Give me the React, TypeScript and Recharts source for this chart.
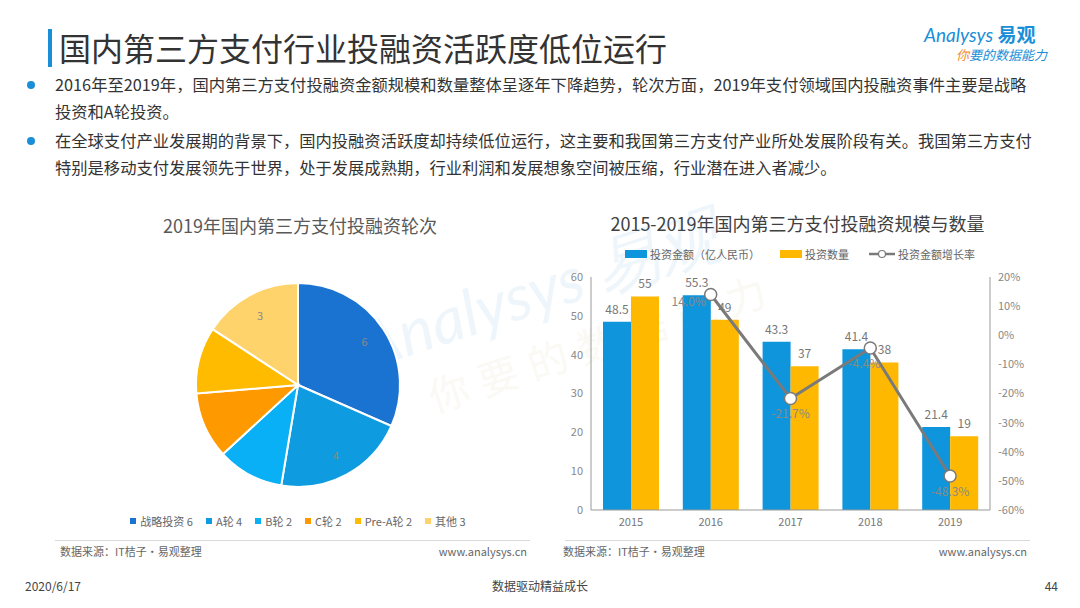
import React from "react";
import {
  Bar,
  Cell,
  ComposedChart,
  LabelList,
  Line,
  Pie,
  PieChart,
  XAxis,
  YAxis,
} from "recharts";

// pie: 2019 rounds
const roundNames = ["战略投资", "A轮", "B轮", "C轮", "Pre-A轮", "其他"];
const roundCounts = [6, 4, 2, 2, 2, 3];
const ROUND_COLORS = ["#1a73d0", "#0e9be0", "#0ab0f5", "#ff9900", "#ffbb00", "#ffd36b"];

// bars + line: 2015-2019
const years = ["2015", "2016", "2017", "2018", "2019"];
const amounts = [48.5, 55.3, 43.3, 41.4, 21.4];
const counts = [55, 49, 37, 38, 19];
const growth = [null, 14.0, -21.7, -4.4, -48.3];

const leftTicks = [0, 10, 20, 30, 40, 50, 60];
const rightTicks = [-60, -50, -40, -30, -20, -10, 0, 10, 20];

const pieData = roundNames.map((name, i) => ({ name, value: roundCounts[i] }));
const barData = years.map((year, i) => ({
  year,
  amount: amounts[i],
  count: counts[i],
  growth: growth[i],
}));

const FONT = '"Noto Sans CJK SC", "Noto Sans", sans-serif';
const BLUE = "#0e95dc";
const YELLOW = "#ffb800";
const LINE = "#7a7a7a";

const PieLabel = (props: any) => {
  const { cx, cy, midAngle, outerRadius, value } = props;
  if (value <= 2) return null;
  const r = outerRadius * 0.78;
  const rad = (Math.PI / 180) * midAngle;
  return (
    <text
      x={cx + r * Math.cos(rad)}
      y={cy - r * Math.sin(rad)}
      fill="#8a8a8a"
      fontSize={11}
      textAnchor="middle"
      dominantBaseline="central"
    >
      {value}
    </text>
  );
};

const GrowthLabel = (props: any) => {
  const { x, y, value, index } = props;
  if (value === null || value === undefined) return null;
  const left = index === 1;
  return (
    <text
      x={left ? x - 22 : index === 3 ? x - 6 : x}
      y={left ? y + 12 : y + 20}
      fill="#8a8a8a"
      fontSize={12}
      textAnchor="middle"
    >
      {value.toFixed(1)}%
    </text>
  );
};

const abs = (left: number, top: number, extra: React.CSSProperties = {}): React.CSSProperties => ({
  position: "absolute",
  left,
  top,
  ...extra,
});

export default function App() {
  return (
    <div
      style={{
        position: "absolute",
        left: 0,
        top: 0,
        width: 1080,
        height: 608,
        background: "#fff",
        fontFamily: FONT,
        overflow: "hidden",
      }}
    >
      {/* header */}
      <div style={abs(48, 29, { width: 4, height: 38, background: "#1a8fd8" })} />
      <div style={abs(59, 22, { fontSize: 32, color: "#333", lineHeight: "50px", whiteSpace: "nowrap" })}>
        国内第三方支付行业投融资活跃度低位运行
      </div>
      <div style={abs(924, 24, { whiteSpace: "nowrap", lineHeight: "20px" })}>
        <div style={{ fontSize: 19, color: "#1a8fd8", fontFamily: "Lato, sans-serif" }}>
          <span style={{ fontStyle: "italic" }}>Analysys </span>
          <span style={{ fontWeight: 700, fontFamily: FONT }}>易观</span>
        </div>
        <div style={{ fontSize: 13, color: "#1a8fd8", fontStyle: "italic", paddingLeft: 32 }}>
          <span style={{ color: "#f08a1c" }}>你</span>要的数据能力
        </div>
      </div>

      {/* bullets */}
      {[
        [
          "2016年至2019年，国内第三方支付投融资金额规模和数量整体呈逐年下降趋势，轮次方面，2019年支付领域国内投融资事件主要是战略",
          "投资和A轮投资。",
        ],
        [
          "在全球支付产业发展期的背景下，国内投融资活跃度却持续低位运行，这主要和我国第三方支付产业所处发展阶段有关。我国第三方支付",
          "特别是移动支付发展领先于世界，处于发展成熟期，行业利润和发展想象空间被压缩，行业潜在进入者减少。",
        ],
      ].map((lines, i) => (
        <div key={i} style={abs(0, 71 + i * 56, { width: 1080 })}>
          <div style={abs(27, 10, { width: 8, height: 8, borderRadius: 4, background: "#1a8fd8" })} />
          {lines.map((t, j) => (
            <div
              key={j}
              style={abs(55, j * 27, { fontSize: 16.3, color: "#333", lineHeight: "27px", whiteSpace: "nowrap" })}
            >
              {t}
            </div>
          ))}
        </div>
      ))}

      {/* titles */}
      <div style={abs(80, 212, { width: 440, textAlign: "center", fontSize: 18, color: "#595959" })}>
        2019年国内第三方支付投融资轮次
      </div>
      <div style={abs(560, 210, { width: 475, textAlign: "center", fontSize: 18, color: "#404040" })}>
        2015-2019年国内第三方支付投融资规模与数量
      </div>

      {/* watermark */}
      <svg width={1080} height={608} style={abs(0, 0, { pointerEvents: "none" })}>
        <g transform="rotate(-18 520 320)" opacity={0.09}>
          <text x={360} y={320} fontSize={64} fill="#5aa6dc" fontFamily="Lato, sans-serif" fontStyle="italic">
            Analysys 易观
          </text>
          <text x={410} y={382} fontSize={40} fill="#d8c08a" fontFamily={FONT} letterSpacing={12}>
            你要的数据能力
          </text>
        </g>
      </svg>

      {/* pie chart */}
      <div style={abs(100, 228)}>
        <PieChart width={410} height={290}>
          <Pie
            data={pieData}
            dataKey="value"
            nameKey="name"
            cx={193}
            cy={152}
            outerRadius={102}
            startAngle={90}
            endAngle={-270}
            stroke="#fff"
            strokeWidth={2}
            label={PieLabel}
            labelLine={false}
            isAnimationActive={false}
          >
            {pieData.map((item, index) => (
              <Cell key={index} fill={ROUND_COLORS[index]} />
            ))}
          </Pie>
        </PieChart>
      </div>
      <div
        style={abs(78, 513, {
          width: 440,
          display: "flex",
          justifyContent: "center",
          gap: 13,
          fontSize: 11,
          color: "#666",
          whiteSpace: "nowrap",
        })}
      >
        {pieData.map((d, i) => (
          <span key={i} style={{ display: "flex", alignItems: "center" }}>
            <span style={{ width: 6, height: 6, background: ROUND_COLORS[i], marginRight: 4 }} />
            {d.name} {d.value}
          </span>
        ))}
      </div>

      {/* bar + line chart legend */}
      <div
        style={abs(600, 246, {
          width: 400,
          display: "flex",
          justifyContent: "center",
          gap: 20,
          fontSize: 11,
          color: "#666",
          whiteSpace: "nowrap",
        })}
      >
        <span style={{ display: "flex", alignItems: "center" }}>
          <span style={{ width: 22, height: 8, background: BLUE, marginRight: 3 }} />
          投资金额（亿人民币）
        </span>
        <span style={{ display: "flex", alignItems: "center" }}>
          <span style={{ width: 22, height: 8, background: YELLOW, marginRight: 3 }} />
          投资数量
        </span>
        <span style={{ display: "flex", alignItems: "center" }}>
          <svg width={26} height={10} style={{ marginRight: 3 }}>
            <line x1={0} y1={5} x2={26} y2={5} stroke={LINE} strokeWidth={2.5} />
            <circle cx={13} cy={5} r={3.5} fill="#fff" stroke={LINE} strokeWidth={1.2} />
          </svg>
          投资金额增长率
        </span>
      </div>

      {/* bar + line chart */}
      <div style={abs(540, 240)}>
        <ComposedChart
          width={520}
          height={300}
          data={barData}
          margin={{ top: 37, right: 20, left: 0, bottom: 0 }}
          barGap={0}
          barSize={28}
        >
          <XAxis
            dataKey="year"
            stroke="#999"
            tickLine={false}
            tick={{ fill: "#777", fontSize: 11 }}
            height={30}
          />
          <YAxis
            yAxisId="left"
            domain={[0, 60]}
            ticks={leftTicks}
            stroke="#999"
            tickLine={false}
            tick={{ fill: "#888", fontSize: 11 }}
            width={51}
          />
          <YAxis
            yAxisId="right"
            orientation="right"
            domain={[-60, 20]}
            ticks={rightTicks}
            stroke="#999"
            tickLine={false}
            tickFormatter={(v: number) => `${v}%`}
            tick={{ fill: "#888", fontSize: 11 }}
            width={50}
          />
          <Bar yAxisId="left" dataKey="amount" fill={BLUE} isAnimationActive={false}>
            <LabelList dataKey="amount" position="top" fill="#777" fontSize={12} offset={8} />
          </Bar>
          <Bar yAxisId="left" dataKey="count" fill={YELLOW} isAnimationActive={false}>
            <LabelList dataKey="count" position="top" fill="#777" fontSize={12} offset={8} />
          </Bar>
          <Line
            yAxisId="right"
            dataKey="growth"
            stroke={LINE}
            strokeWidth={3}
            dot={{ r: 6, fill: "#fff", stroke: LINE, strokeWidth: 1.5 }}
            isAnimationActive={false}
          >
            <LabelList dataKey="growth" content={GrowthLabel} />
          </Line>
        </ComposedChart>
      </div>

      {/* footers */}
      <div style={abs(55, 540, { width: 475, height: 1, background: "#d9d9d9" })} />
      <div style={abs(565, 540, { width: 465, height: 1, background: "#d9d9d9" })} />
      <div style={abs(60, 543, { fontSize: 11, color: "#666" })}>数据来源：IT桔子·易观整理</div>
      <div style={abs(330, 543, { width: 197, textAlign: "right", fontSize: 11, color: "#666" })}>
        www.analysys.cn
      </div>
      <div style={abs(563, 543, { fontSize: 11, color: "#666" })}>数据来源：IT桔子·易观整理</div>
      <div style={abs(830, 543, { width: 197, textAlign: "right", fontSize: 11, color: "#666" })}>
        www.analysys.cn
      </div>
      <div style={abs(25, 577, { fontSize: 12, color: "#444" })}>2020/6/17</div>
      <div style={abs(440, 577, { width: 200, textAlign: "center", fontSize: 12, color: "#444" })}>
        数据驱动精益成长
      </div>
      <div style={abs(1000, 577, { width: 58, textAlign: "right", fontSize: 12, color: "#444" })}>44</div>
    </div>
  );
}
